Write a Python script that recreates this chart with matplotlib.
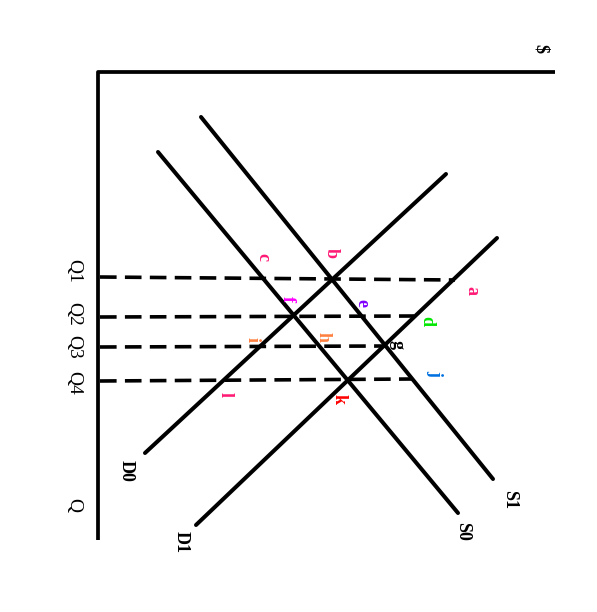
import matplotlib.pyplot as plt

# drawing is in pixel space of the 597x612 picture (y grows downward)
axis_x = [98, 98, 555]
axis_y = [540, 72, 72]

curve_names = ['S0', 'S1', 'D0', 'D1']
curve_x = [[158, 458], [201, 493], [446, 145], [497, 196]]
curve_y = [[152, 513], [117, 479], [174, 453], [238, 525]]
curve_label_xy = [(463, 531), (510, 499), (126, 471), (181, 542)]

q_names = ['Q1', 'Q2', 'Q3', 'Q4']
q_y_left = [277, 317, 347, 381]
q_y_right = [280, 316, 346, 379]
q_x_right = [455, 414, 385, 413]
q_label_y = [271, 314, 347, 383]

pt_letters = ['a', 'b', 'c', 'd', 'e', 'f', 'g', 'h', 'i', 'j', 'k', 'l']
pt_x = [472, 331, 263, 427, 362, 287, 397, 323, 252, 435, 339, 225]
pt_y = [290, 253, 257, 321, 303, 299, 345, 337, 340, 373, 399, 394]
pt_colors = ['#ff1a75', '#ff1a75', '#ff1a75', '#00e600', '#8000ff', '#ff00ff',
             '#000000', '#ff8040', '#ff8040', '#0070e0', '#ff0000', '#ff1a75']

fig = plt.figure(figsize=(5.97, 6.12), dpi=100)
ax = fig.add_axes([0, 0, 1, 1])
ax.set_xlim(0, 597)
ax.set_ylim(612, 0)
ax.axis('off')

ax.plot(axis_x, axis_y, color='black', lw=2.7, solid_capstyle='butt')

for xs, ys in zip(curve_x, curve_y):
    ax.plot(xs, ys, color='black', lw=2.9, solid_capstyle='round')

for yl, yr, xr in zip(q_y_left, q_y_right, q_x_right):
    ax.plot([100, xr], [yl, yr], color='black', lw=2.6,
            linestyle=(0, (4.6, 2.3)), dash_capstyle='butt')

serif = ['Liberation Serif', 'DejaVu Serif']
for name, (x, y) in zip(curve_names, curve_label_xy):
    ax.text(x, y, name, rotation=-90, ha='center', va='center',
            fontsize=13, fontweight='bold', family=serif)

for name, y in zip(q_names, q_label_y):
    ax.text(74, y, name, rotation=-90, ha='center', va='center',
            fontsize=14, family=serif)
ax.text(74, 505, 'Q', rotation=-90, ha='center', va='center', fontsize=14, family=serif)
ax.text(540, 48, '$', rotation=-90, ha='center', va='center', fontsize=13,
        fontweight='bold', family=serif)

for s, x, y, c in zip(pt_letters, pt_x, pt_y, pt_colors):
    ax.text(x, y, s, rotation=-90, ha='center', va='center', fontsize=13,
            fontweight='bold', color=c, family=serif)

fig.savefig('out.png', dpi=100)
